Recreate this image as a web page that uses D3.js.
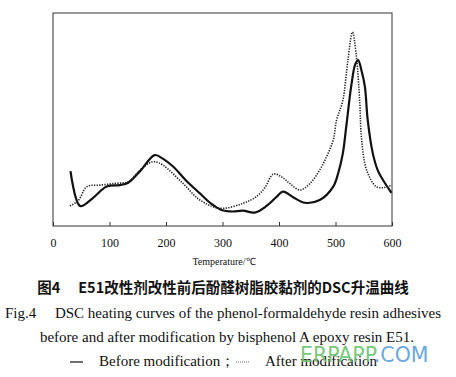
<!DOCTYPE html>
<html><head><meta charset="utf-8">
<script src="https://cdn.jsdelivr.net/npm/d3@7"></script>
<style>body{margin:0;background:#fff}svg{display:block}</style>
</head><body>
<script>
const xTicks = [0,100,200,300,400,500,600];
const beforeT = [31,48,70,95,118,133,155,180,195,213,235,260,280,298,318,336,357,378,395,407,425,446,472,496,505,513,519,528,535,540,546,552,557,566,575,584,599];
const beforeV = [25.8,9.4,13,18.5,19.2,20.3,26,33.3,31.5,27.8,21.5,15.3,10.5,7.5,6.8,7.2,6.3,9.4,13.5,16.1,13.5,10.9,12.2,18.5,25,34.1,46.6,66,76,77.9,73,65.4,49.8,34.1,26,21.6,15.6];
const afterT = [30,45,60,83,110,133,154,170,180,195,230,260,295,336,360,375,390,405,419,437,455,472,485,496,502,513,522,530,537,543,546,555,572,585,599];
const afterV = [9.4,12,18.5,19.2,20,20.8,26.3,29.5,30.2,28.5,20,12.2,8.3,10.6,13.8,18,24.4,23,20,16.9,20,26.3,33,40.4,49.8,59,78,91,79.5,57.7,41.3,26.3,18.5,18,19.2];
const caption1 = "图4\u2003 E51改性剂改性前后酚醛树脂胶黏剂的DSC升温曲线";
const caption2 = "Fig.4\u2003 DSC heating curves of the phenol-formaldehyde resin adhesives";
const caption3 = "before and after modification by bisphenol A epoxy resin E51.";

const W=456,H=377;
const svg=d3.select("body").append("svg").attr("width",W).attr("height",H);
const x=d3.scaleLinear().domain([0,600]).range([53,392]);
const y=d3.scaleLinear().domain([0,100]).range([226,13]);
const serif="'Liberation Serif','Times New Roman',serif";

svg.append("rect").attr("x",53).attr("y",13).attr("width",339).attr("height",213)
  .attr("fill","none").attr("stroke","#333").attr("stroke-width",1);

const ax=svg.append("g").attr("transform","translate(0,226)")
  .call(d3.axisBottom(x).tickValues(xTicks).tickSize(-4).tickPadding(12))
  .attr("font-family",serif).attr("font-size",12);
ax.select(".domain").remove();
ax.selectAll("line").attr("stroke","#333");
ax.selectAll("text").style("font-family",serif).attr("fill","#111");

const line=d3.line().x(d=>x(d[0])).y(d=>y(d[1])).curve(d3.curveCatmullRom.alpha(0.5));
svg.append("path").datum(beforeT.map((t,i)=>[t,beforeV[i]])).attr("d",line)
  .attr("fill","none").attr("stroke","#111").attr("stroke-width",2.2);
svg.append("path").datum(afterT.map((t,i)=>[t,afterV[i]])).attr("d",line)
  .attr("fill","none").attr("stroke","#222").attr("stroke-width",1.6).attr("stroke-dasharray","1.3,1.3");

svg.append("text").attr("x",224).attr("y",265).attr("text-anchor","middle")
  .attr("font-family",serif).attr("font-size",10).attr("fill","#111").text("Temperature/℃");
svg.append("text").attr("x",223).attr("y",293).attr("text-anchor","middle")
  .attr("font-family","'Noto Sans CJK SC',sans-serif").attr("font-size",14.5).attr("font-weight","bold").attr("fill","#111").text(caption1);
svg.append("text").attr("x",223).attr("y",318).attr("text-anchor","middle")
  .attr("font-family",serif).attr("font-size",15).attr("fill","#111").text(caption2);
svg.append("text").attr("x",227).attr("y",342).attr("text-anchor","middle")
  .attr("font-family",serif).attr("font-size",15).attr("fill","#111").text(caption3);
svg.append("line").attr("x1",70).attr("x2",83).attr("y1",362).attr("y2",362).attr("stroke","#111").attr("stroke-width",1.2);
svg.append("text").attr("x",99).attr("y",366).attr("font-family",serif).attr("font-size",15).attr("fill","#111").text("Before modification；");
svg.append("line").attr("x1",236).attr("x2",250).attr("y1",362).attr("y2",362).attr("stroke","#666").attr("stroke-width",1).attr("stroke-dasharray","1,1");
svg.append("text").attr("x",265).attr("y",366).attr("font-family",serif).attr("font-size",15).attr("fill","#111").text("After modification");
const wm=svg.append("text").attr("x",300).attr("y",362).attr("font-family","'DejaVu Sans',sans-serif").attr("font-size",20.5).attr("opacity",0.9);
wm.append("tspan").attr("fill","#6cc46c").text("ERPAPP");
wm.append("tspan").attr("fill","#5aa0dc").text(".COM");
</script>
</body></html>
